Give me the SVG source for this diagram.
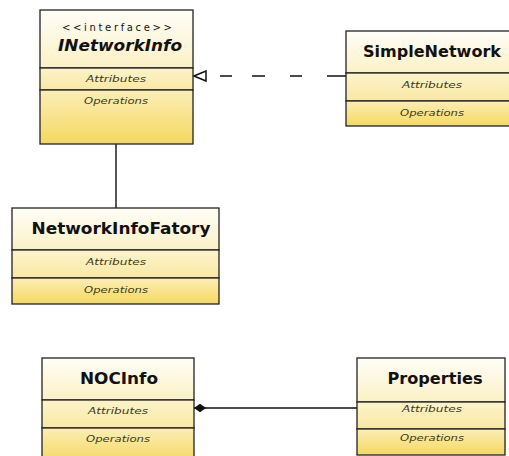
<svg xmlns="http://www.w3.org/2000/svg" width="509" height="456" viewBox="0 0 509 456">
  <style>
    .box { stroke: #222; stroke-width: 1.3; }
    .head { fill: url(#gHead); }
    .attr { fill: url(#gAttr); }
    .ops { fill: url(#gOps); }
    .title { font-family: "DejaVu Sans", "Liberation Sans", sans-serif; font-weight: bold; font-size: 15px; fill: #111; text-anchor: middle; }
    .stereo { font-family: "DejaVu Sans", "Liberation Sans", sans-serif; font-size: 10px; fill: #111; text-anchor: middle; }
    .comp { font-family: "DejaVu Sans", "Liberation Sans", sans-serif; font-style: italic; font-size: 9.5px; fill: #3f3a18; text-anchor: middle; }
    .edge { stroke: #111; stroke-width: 1.4; fill: none; }
  </style>
  <defs>
    <linearGradient id="gHead" x1="0" y1="0" x2="0" y2="1">
      <stop offset="0" stop-color="#fffef8"/>
      <stop offset="1" stop-color="#fbf1c6"/>
    </linearGradient>
    <linearGradient id="gAttr" x1="0" y1="0" x2="0" y2="1">
      <stop offset="0" stop-color="#fcf3cc"/>
      <stop offset="1" stop-color="#f9e8a4"/>
    </linearGradient>
    <linearGradient id="gOps" x1="0" y1="0" x2="0" y2="1">
      <stop offset="0" stop-color="#fbeeb8"/>
      <stop offset="1" stop-color="#f5d860"/>
    </linearGradient>
    <!-- hollow triangle for realization, tip sits on the line end -->
    <marker id="realize" viewBox="0 0 14 12" refX="13" refY="6" markerWidth="14" markerHeight="12" markerUnits="userSpaceOnUse" orient="auto">
      <path d="M1,1 L13,6 L1,11 Z" fill="#fff" stroke="#111" stroke-width="1.5"/>
    </marker>
    <!-- filled diamond for composition -->
    <marker id="compose" viewBox="0 0 14 10" refX="13" refY="5" markerWidth="14" markerHeight="10" markerUnits="userSpaceOnUse" orient="auto">
      <path d="M1,5 L7,0.8 L13,5 L7,9.2 Z" fill="#111"/>
    </marker>
  </defs>

  <!-- connectors -->
  <g id="connectors">
    <line class="edge" x1="116" y1="144" x2="116" y2="208"/>
    <line class="edge" x1="346" y1="76" x2="194" y2="76" stroke-dasharray="19,25,12,25,13,20,12,40" marker-end="url(#realize)"/>
    <line class="edge" x1="357" y1="408" x2="194" y2="408" marker-end="url(#compose)"/>
  </g>

  <!-- INetworkInfo -->
  <g id="INetworkInfo">
    <rect class="box head" x="40" y="10" width="153" height="58"/>
    <rect class="box attr" x="40" y="68" width="153" height="22"/>
    <rect class="box ops" x="40" y="90" width="153" height="54"/>
    <text class="stereo" x="117" y="31" textLength="110" lengthAdjust="spacing">&lt;&lt;interface&gt;&gt;</text>
    <text class="title" x="120" y="51" font-style="italic" textLength="124" lengthAdjust="spacingAndGlyphs">INetworkInfo</text>
    <text class="comp" x="116" y="82" textLength="60" lengthAdjust="spacingAndGlyphs">Attributes</text>
    <text class="comp" x="116" y="104" textLength="64" lengthAdjust="spacingAndGlyphs">Operations</text>
  </g>

  <!-- SimpleNetwork -->
  <g id="SimpleNetwork">
    <rect class="box head" x="346" y="31" width="172" height="42"/>
    <rect class="box attr" x="346" y="73" width="172" height="28"/>
    <rect class="box ops" x="346" y="101" width="172" height="25"/>
    <text class="title" x="432" y="57" textLength="138" lengthAdjust="spacingAndGlyphs">SimpleNetwork</text>
    <text class="comp" x="432" y="88" textLength="60" lengthAdjust="spacingAndGlyphs">Attributes</text>
    <text class="comp" x="432" y="116" textLength="64" lengthAdjust="spacingAndGlyphs">Operations</text>
  </g>

  <!-- NetworkInfoFatory -->
  <g id="NetworkInfoFatory">
    <rect class="box head" x="12" y="208" width="207" height="42"/>
    <rect class="box attr" x="12" y="250" width="207" height="28"/>
    <rect class="box ops" x="12" y="278" width="207" height="26"/>
    <text class="title" x="121" y="234" textLength="179" lengthAdjust="spacingAndGlyphs">NetworkInfoFatory</text>
    <text class="comp" x="116" y="265" textLength="60" lengthAdjust="spacingAndGlyphs">Attributes</text>
    <text class="comp" x="116" y="293" textLength="64" lengthAdjust="spacingAndGlyphs">Operations</text>
  </g>

  <!-- NOCInfo -->
  <g id="NOCInfo">
    <rect class="box head" x="42" y="358" width="152" height="42"/>
    <rect class="box attr" x="42" y="400" width="152" height="28"/>
    <rect class="box ops" x="42" y="428" width="152" height="34"/>
    <text class="title" x="119" y="384" textLength="78" lengthAdjust="spacingAndGlyphs">NOCInfo</text>
    <text class="comp" x="118" y="414" textLength="60" lengthAdjust="spacingAndGlyphs">Attributes</text>
    <text class="comp" x="118" y="442" textLength="64" lengthAdjust="spacingAndGlyphs">Operations</text>
  </g>

  <!-- Properties -->
  <g id="Properties">
    <rect class="box head" x="357" y="358" width="148" height="44"/>
    <rect class="box attr" x="357" y="402" width="148" height="27"/>
    <rect class="box ops" x="357" y="429" width="148" height="26"/>
    <text class="title" x="435" y="384" textLength="95" lengthAdjust="spacingAndGlyphs">Properties</text>
    <text class="comp" x="432" y="412" textLength="60" lengthAdjust="spacingAndGlyphs">Attributes</text>
    <text class="comp" x="432" y="441" textLength="64" lengthAdjust="spacingAndGlyphs">Operations</text>
  </g>
</svg>
